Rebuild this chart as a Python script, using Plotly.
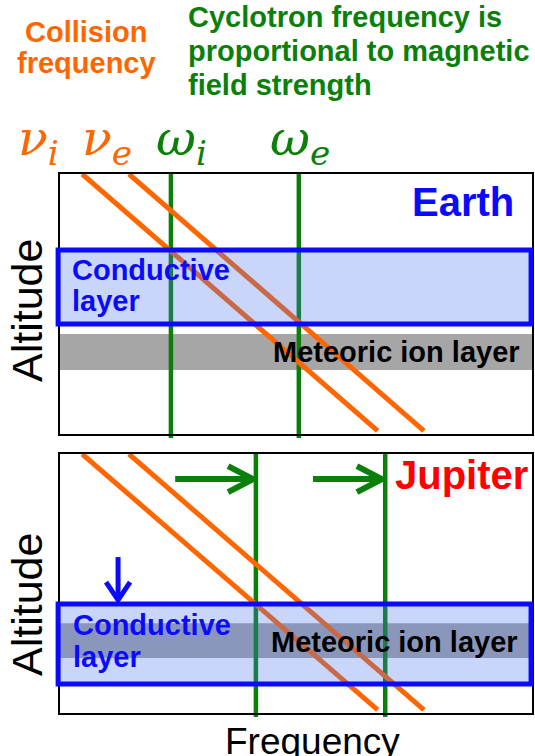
import plotly.graph_objects as go

# ---------------- data (arbitrary units: frequency 0-100, altitude 0-100) ----------------
panels = ["Earth", "Jupiter"]
collision_altitude = [100, 1.2]          # altitude end points of the collision-frequency lines
nu_i_freq = [4.7, 67.3]                  # ion collision frequency (same on both planets)
nu_e_freq = [14.6, 77.1]                 # electron collision frequency
omega_i = {"Earth": 23.5, "Jupiter": 41.5}   # ion cyclotron frequency
omega_e = {"Earth": 50.6, "Jupiter": 68.9}   # electron cyclotron frequency
conductive_layer = {"Earth": [42.3, 70.8], "Jupiter": [11.2, 42.1]}
meteoric_layer = {"Earth": [24.6, 38.5], "Jupiter": [21.2, 34.7]}
shift_arrow_from = [24.4, 53.6]          # Jupiter: cyclotron frequencies shift up
shift_arrow_to = [40.9, 68.2]
shift_arrow_alt = 90.3
down_arrow_freq = 12.3                   # conductive layer moves down
down_arrow_alt = [60.2, 43.6]

collision_title = ["Collision", "frequency"]
cyclotron_title = ["Cyclotron frequency is", "proportional to magnetic", "field strength"]
freq_symbols = ["ν<sub>i</sub>", "ν<sub>e</sub>", "ω<sub>i</sub>", "ω<sub>e</sub>"]

# ---------------- layout geometry ----------------
W, H = 535, 756
def fx(p): return p / W
def fy(p): return 1 - p / H

X0, X1 = 60, 532
panel_px = {"Earth": (174, 434), "Jupiter": (454, 713)}

ORANGE = "#ff6600"
GREEN = "#0a800a"
BLUE = "#0a0aff"
FONT = "Liberation Sans, Arial, sans-serif"

fig = go.Figure()
layout_axes = {}
shapes = []

for k, name in enumerate(panels):
    xa = "x" if k == 0 else "x2"
    ya = "y" if k == 0 else "y2"
    xkey = "xaxis" if k == 0 else "xaxis2"
    ykey = "yaxis" if k == 0 else "yaxis2"
    top, bot = panel_px[name]
    layout_axes[xkey] = dict(domain=[fx(X0), fx(X1)], range=[0, 100], showgrid=False,
                             zeroline=False, showticklabels=False, ticks="",
                             showline=True, mirror=True, linecolor="black", linewidth=2,
                             anchor=ya)
    layout_axes[ykey] = dict(domain=[fy(bot), fy(top)], range=[0, 100], showgrid=False,
                             zeroline=False, showticklabels=False, ticks="",
                             showline=True, mirror=True, linecolor="black", linewidth=2,
                             anchor=xa)

    # meteoric ion layer (grey band, below traces)
    m0, m1 = meteoric_layer[name]
    shapes.append(dict(type="rect", xref=f"{xa} domain", yref=ya, x0=0, x1=1, y0=m0, y1=m1,
                       fillcolor="#a6a6a6", line=dict(width=0), layer="below"))
    # cyclotron frequencies (green verticals)
    for om in (omega_i[name], omega_e[name]):
        shapes.append(dict(type="line", xref=xa, yref=f"{ya} domain", x0=om, x1=om,
                           y0=-0.015, y1=1.008, line=dict(color=GREEN, width=4.5), layer="below"))
    # collision frequencies (orange)
    for fr in (nu_i_freq, nu_e_freq):
        fig.add_trace(go.Scatter(x=fr, y=collision_altitude, mode="lines", xaxis=xa, yaxis=ya,
                                 line=dict(color=ORANGE, width=5), showlegend=False,
                                 hoverinfo="skip"))
    # conductive layer (translucent blue box on top)
    c0, c1 = conductive_layer[name]
    shapes.append(dict(type="rect", xref=f"{xa} domain", yref=ya, x0=-0.004, x1=0.998,
                       y0=c0, y1=c1, fillcolor="rgba(70,115,238,0.29)",
                       line=dict(color=BLUE, width=5), layer="above"))

# ---- arrows in the Jupiter panel (shaft + open chevron head) ----
px_x = (X1 - X0) / 100.0
px_y = (panel_px["Jupiter"][1] - panel_px["Jupiter"][0]) / 100.0
ax_, ay_ = [], []
for a, b in zip(shift_arrow_from, shift_arrow_to):
    ax_ += [a, b, None, b - 25 / px_x, b, b - 25 / px_x, None]
    ay_ += [shift_arrow_alt, shift_arrow_alt, None,
            shift_arrow_alt + 13 / px_y, shift_arrow_alt, shift_arrow_alt - 13 / px_y, None]
fig.add_trace(go.Scatter(x=ax_, y=ay_, mode="lines", xaxis="x2", yaxis="y2",
                         line=dict(color=GREEN, width=6), showlegend=False, hoverinfo="skip"))
d0, d1 = down_arrow_alt
fig.add_trace(go.Scatter(
    x=[down_arrow_freq, down_arrow_freq, None,
       down_arrow_freq - 12 / px_x, down_arrow_freq, down_arrow_freq + 12 / px_x],
    y=[d0, d1, None, d1 + 18 / px_y, d1, d1 + 18 / px_y],
    mode="lines", xaxis="x2", yaxis="y2", line=dict(color=BLUE, width=5),
    showlegend=False, hoverinfo="skip"))

# ---------------- text ----------------
ann = []
def txt(text, x, y, size, color, xanchor="center", yanchor="middle", align="center",
        family=FONT, angle=0):
    ann.append(dict(text=text, x=fx(x), y=fy(y), xref="paper", yref="paper",
                    xanchor=xanchor, yanchor=yanchor, align=align, showarrow=False,
                    textangle=angle, font=dict(family=family, size=size, color=color)))

for line, y in zip(collision_title, [32, 63]):
    txt(f"<b>{line}</b>", 86, y, 29, ORANGE)
for line, y in zip(cyclotron_title, [17, 51, 85]):
    txt(f"<b>{line}</b>", 186, y, 29, GREEN, xanchor="left", align="left")

SERIF = "DejaVu Serif, serif"
for sym, x, col in zip(freq_symbols, [38, 107, 181, 300], [ORANGE, ORANGE, GREEN, GREEN]):
    txt(f"<i>{sym}</i>", x, 141, 49, col, family=SERIF)

txt("<b>Earth</b>", 516, 202, 40, BLUE, xanchor="right")
txt("<b>Jupiter</b>", 530, 475, 40, "#ff0000", xanchor="right")

txt("<b>Conductive</b>", 70, 270, 29, BLUE, xanchor="left")
txt("<b>layer</b>", 70, 301, 29, BLUE, xanchor="left")
txt("<b>Meteoric ion layer</b>", 522, 352, 29, "black", xanchor="right")
txt("<b>Conductive</b>", 71, 625, 29, BLUE, xanchor="left")
txt("<b>layer</b>", 71, 657, 29, BLUE, xanchor="left")
txt("<b>Meteoric ion layer</b>", 520, 642, 29, "black", xanchor="right")

txt("Altitude", 27, 311, 43, "black", angle=-90)
txt("Altitude", 27, 605, 43, "black", angle=-90)
txt("Frequency", 312, 741, 37, "black")

fig.update_layout(width=W, height=H, margin=dict(l=0, r=0, t=0, b=0),
                  paper_bgcolor="white", plot_bgcolor="white",
                  shapes=shapes, annotations=ann, **layout_axes)
fig.write_html("out.html", config={"displayModeBar": False},
               post_script="document.body.style.margin='0px';document.body.style.overflow='hidden';")
